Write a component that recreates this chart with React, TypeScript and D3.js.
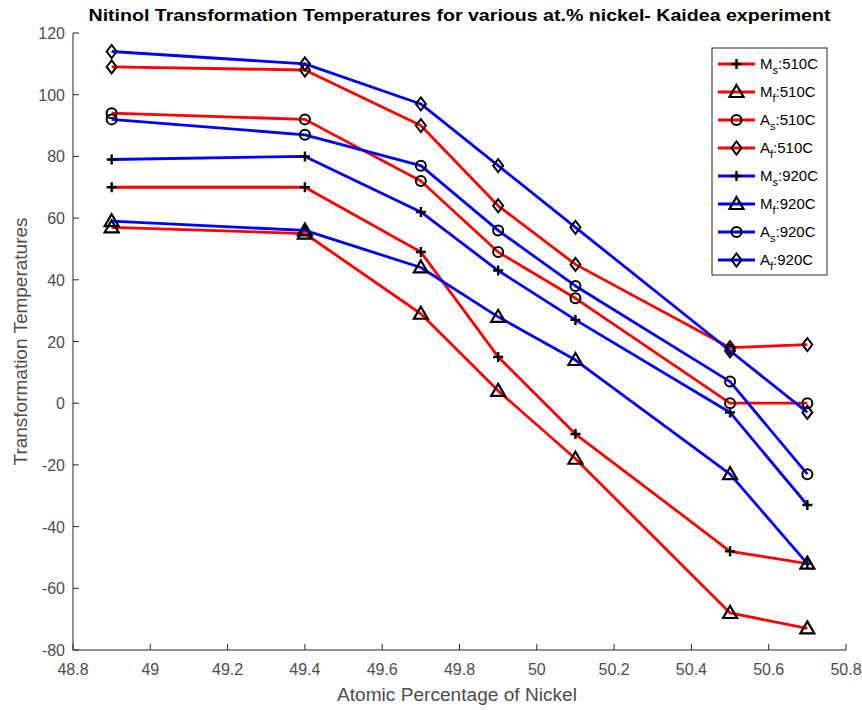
import React from "react";
import * as d3 from "d3";

const xValues = [48.9, 49.4, 49.7, 49.9, 50.1, 50.5, 50.7];
const ms510 = [70, 70, 49, 15, -10, -48, -52];
const mf510 = [57, 55, 29, 4, -18, -68, -73];
const as510 = [94, 92, 72, 49, 34, 0, 0];
const af510 = [109, 108, 90, 64, 45, 18, 19];
const ms920 = [79, 80, 62, 43, 27, -3, -33];
const mf920 = [59, 56, 44, 28, 14, -23, -52];
const as920 = [92, 87, 77, 56, 38, 7, -23];
const af920 = [114, 110, 97, 77, 57, 17, -3];

const xTicks = [48.8, 49, 49.2, 49.4, 49.6, 49.8, 50, 50.2, 50.4, 50.6, 50.8];
const yTicks = [-80, -60, -40, -20, 0, 20, 40, 60, 80, 100, 120];

type Marker = "plus" | "triangle" | "circle" | "diamond";
const seriesList: { letter: string; sub: string; temp: string; color: string; marker: Marker; values: number[] }[] = [
  { letter: "M", sub: "s", temp: "510C", color: "#ff0000", marker: "plus", values: ms510 },
  { letter: "M", sub: "f", temp: "510C", color: "#ff0000", marker: "triangle", values: mf510 },
  { letter: "A", sub: "s", temp: "510C", color: "#ff0000", marker: "circle", values: as510 },
  { letter: "A", sub: "f", temp: "510C", color: "#ff0000", marker: "diamond", values: af510 },
  { letter: "M", sub: "s", temp: "920C", color: "#0000ff", marker: "plus", values: ms920 },
  { letter: "M", sub: "f", temp: "920C", color: "#0000ff", marker: "triangle", values: mf920 },
  { letter: "A", sub: "s", temp: "920C", color: "#0000ff", marker: "circle", values: as920 },
  { letter: "A", sub: "f", temp: "920C", color: "#0000ff", marker: "diamond", values: af920 },
];

const W = 862;
const H = 710;
const left = 73;
const right = 846;
const top = 33;
const bottom = 650;
const axisColor = "#262626";
const labelColor = "#4d4d4d";
const font = "'Liberation Sans', Arial, Helvetica, sans-serif";

function MarkerShape({ type, x, y }: { type: Marker; x: number; y: number }) {
  const common = { fill: "none", stroke: "#000", strokeWidth: 2 };
  if (type === "plus") {
    return <path d={`M${x - 5},${y}H${x + 5}M${x},${y - 5}V${y + 5}`} {...common} strokeWidth={2.4} />;
  }
  if (type === "triangle") {
    return <path d={`M${x},${y - 7}L${x + 7},${y + 5}L${x - 7},${y + 5}Z`} {...common} strokeWidth={2.2} />;
  }
  if (type === "circle") {
    return <circle cx={x} cy={y} r={5} {...common} />;
  }
  return <path d={`M${x},${y - 6.5}L${x + 5},${y}L${x},${y + 6.5}L${x - 5},${y}Z`} {...common} />;
}

export default function App() {
  const xScale = d3.scaleLinear().domain([48.8, 50.8]).range([left, right]);
  const yScale = d3.scaleLinear().domain([-80, 120]).range([bottom, top]);
  const line = d3
    .line<[number, number]>()
    .x((d) => xScale(d[0]))
    .y((d) => yScale(d[1]));

  const legX = 712;
  const legY = 48;
  const legW = 115;
  const legH = 227;
  const rowStart = 64;
  const rowStep = 28;

  return (
    <svg width={W} height={H} style={{ position: "absolute", left: 0, top: 0, background: "#fff" }} fontFamily={font}>
      <rect x={0} y={0} width={W} height={H} fill="#fff" />
      {/* title */}
      <text
        x={(left + right) / 2}
        y={21}
        textAnchor="middle"
        fontSize={16}
        fontWeight="bold"
        fill="#000"
        textLength={742}
        lengthAdjust="spacingAndGlyphs"
      >
        Nitinol Transformation Temperatures for various at.% nickel- Kaidea experiment
      </text>

      {/* axes */}
      <line x1={left} y1={top} x2={left} y2={bottom} stroke={axisColor} strokeWidth={1} />
      <line x1={left} y1={bottom} x2={right} y2={bottom} stroke={axisColor} strokeWidth={1} />
      {yTicks.map((t) => (
        <g key={"y" + t}>
          <line x1={left} x2={left + 6} y1={yScale(t)} y2={yScale(t)} stroke={axisColor} />
          <text x={65} y={yScale(t) + 6} textAnchor="end" fontSize={16} fill={labelColor}>
            {t}
          </text>
        </g>
      ))}
      {xTicks.map((t) => (
        <g key={"x" + t}>
          <line x1={xScale(t)} x2={xScale(t)} y1={bottom} y2={bottom - 6} stroke={axisColor} />
          <text x={xScale(t)} y={675} textAnchor="middle" fontSize={16} fill={labelColor}>
            {t}
          </text>
        </g>
      ))}
      <text
        x={457}
        y={701}
        textAnchor="middle"
        fontSize={18}
        fill={labelColor}
        textLength={240}
        lengthAdjust="spacingAndGlyphs"
      >
        Atomic Percentage of Nickel
      </text>
      <text
        transform={`translate(27,${(top + bottom) / 2}) rotate(-90)`}
        textAnchor="middle"
        fontSize={18}
        fill={labelColor}
        textLength={248}
        lengthAdjust="spacingAndGlyphs"
      >
        Transformation Temperatures
      </text>

      {/* series */}
      {seriesList.map((s, i) => {
        const pts = xValues.map((x, j) => [x, s.values[j]] as [number, number]);
        return (
          <g key={"s" + i}>
            <path d={line(pts) || ""} fill="none" stroke={s.color} strokeWidth={2.8} strokeLinejoin="round" />
            {pts.map((p, j) => (
              <MarkerShape key={j} type={s.marker} x={xScale(p[0])} y={yScale(p[1])} />
            ))}
          </g>
        );
      })}

      {/* legend */}
      <rect x={legX} y={legY} width={legW} height={legH} fill="#fff" stroke={axisColor} strokeWidth={1} />
      {seriesList.map((s, i) => {
        const y = rowStart + i * rowStep;
        return (
          <g key={"l" + i}>
            <line x1={718} x2={755} y1={y} y2={y} stroke={s.color} strokeWidth={2.8} />
            <MarkerShape type={s.marker} x={736.5} y={y} />
            <text x={760} y={y + 5} fontSize={15} fill="#000">
              {s.letter}
              <tspan fontSize={11} dy={5}>
                {s.sub}
              </tspan>
              <tspan dy={-5}>:{s.temp}</tspan>
            </text>
          </g>
        );
      })}
    </svg>
  );
}
